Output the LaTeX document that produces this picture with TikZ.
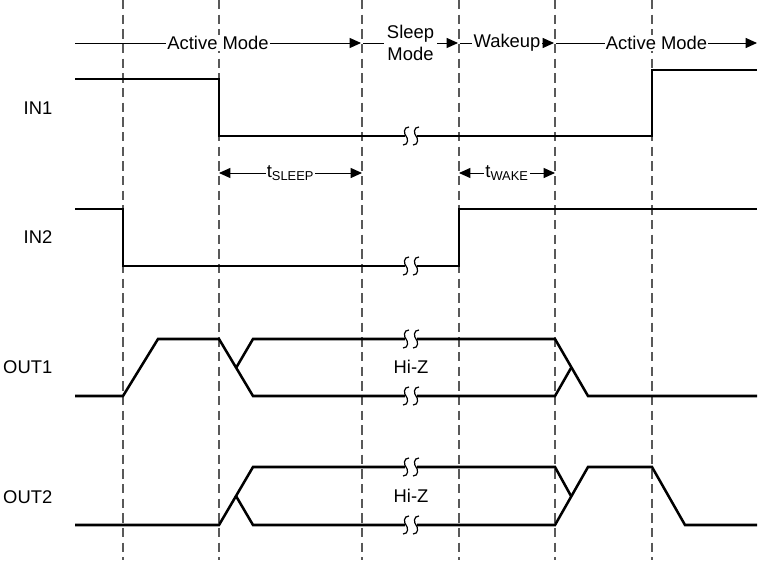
\documentclass[tikz,border=0pt]{standalone}
\usepackage{fontspec}
\setmainfont{Liberation Sans}
\usetikzlibrary{arrows.meta}

\begin{document}
\begin{tikzpicture}[
    x=0.75pt, y=-0.75pt,
    font=\fontsize{13.8}{16}\selectfont,
    sig/.style={line width=1.9pt, line join=miter},
    guide/.style={gray!70!black, line width=1pt, dash pattern=on 7pt off 4pt},
    arrow/.style={-{Triangle[length=8.5pt, width=7.5pt]}, line width=0.7pt},
    dim/.style={{Triangle[length=8.5pt, width=7.5pt]}-{Triangle[length=8.5pt, width=7.5pt]}, line width=0.7pt},
    lbl/.style={fill=white, inner sep=1pt},
    siglabel/.style={anchor=east},
    breakmark/.pic={
        \fill[white] (-6,-4) rectangle (6,4);
        \foreach \d in {-5,5}
            \draw[line width=0.9pt] (\d+3,-9) .. controls (\d-3,-9) and (\d-2,-2) .. (\d,0)
                .. controls (\d+2,2) and (\d+3,9) .. (\d-3,9);
    }
]
\useasboundingbox (0,0) rectangle (759,560);

% Guides
\foreach \x in {123,219,362,459,555,652}
    \draw[guide] (\x,0) -- (\x,560);

% Modes
\coordinate (m0) at (75,43);
\coordinate (m1) at (361,43);
\coordinate (m2) at (363,43);
\coordinate (m3) at (458,43);
\coordinate (m4) at (460,43);
\coordinate (m5) at (554,43);
\coordinate (m6) at (556,43);
\coordinate (m7) at (757,43);
\draw[arrow] (m0) -- node[lbl] (active1) {Active Mode} (m1);
\draw[arrow] (m2) -- node[lbl, align=center, inner sep=2pt] (sleep) {Sleep\\Mode} (m3);
\draw[arrow] (m4) -- node[lbl] (wakeup) {Wakeup} (m5);
\draw[arrow] (m6) -- node[lbl] (active2) {Active Mode} (m7);

% IN1
\node[siglabel] (in1) at (57,108) {IN1};
\draw[sig] (75,79) -- (219,79) -- (219,136) -- (652,136) -- (652,70) -- (757,70);
\pic at (411,136) {breakmark};

% tSLEEP / tWAKE
\coordinate (s0) at (219,173);
\coordinate (s1) at (362,173);
\coordinate (w0) at (459,173);
\coordinate (w1) at (555,173);
\draw[dim] (s0) -- node[lbl] (tsleep) {t\textsubscript{SLEEP}} (s1);
\draw[dim] (w0) -- node[lbl] (twake) {t\textsubscript{WAKE}} (w1);

% IN2
\node[siglabel] (in2) at (57,237) {IN2};
\draw[sig] (75,209) -- (123,209) -- (123,266) -- (459,266) -- (459,209) -- (757,209);
\pic at (411,266) {breakmark};

% OUT1
\node[siglabel] (out1) at (57,367) {OUT1};
\draw[sig] (75,396) -- (123,396) -- (158,339) -- (219,339) -- (253,396) -- (555,396) -- (571,368);
\draw[sig] (236,368) -- (253,339) -- (555,339) -- (588,396) -- (757,396);
\pic at (411,339) {breakmark};
\pic at (411,396) {breakmark};
\node (hiz1) at (411,367) {Hi-Z};

% OUT2
\node[siglabel] (out2) at (57,497) {OUT2};
\draw[sig] (75,525) -- (219,525) -- (253,467) -- (555,467) -- (571,496);
\draw[sig] (236,496) -- (253,525) -- (555,525) -- (588,467) -- (652,467) -- (685,525) -- (757,525);
\pic at (411,467) {breakmark};
\pic at (411,525) {breakmark};
\node (hiz2) at (411,496) {Hi-Z};

\end{tikzpicture}
\end{document}
